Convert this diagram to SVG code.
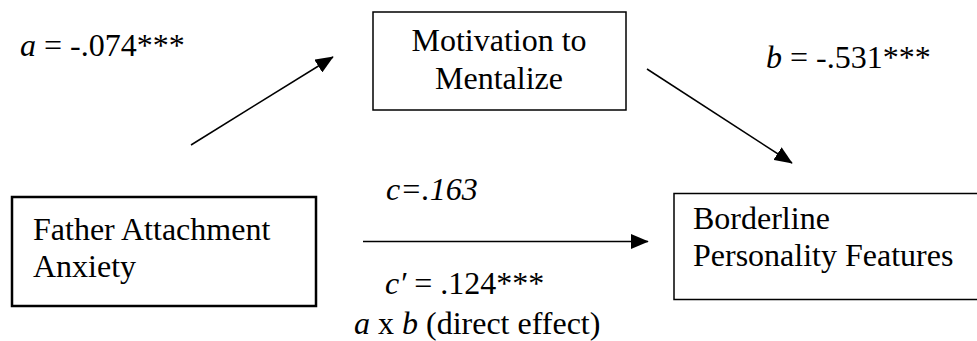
<svg xmlns="http://www.w3.org/2000/svg" width="977" height="341" viewBox="0 0 977 341">
<style>
text{font-family:'Liberation Serif','Times New Roman','DejaVu Serif',serif;font-size:32px;fill:#000}
.i{font-style:italic}
.box{fill:#fff;stroke:#000;stroke-width:1.5}
.thick{stroke-width:2.5}
.edge{stroke:#000;stroke-width:1.5;fill:none;marker-end:url(#ah)}
</style>
<defs>
<marker id="ah" markerWidth="12" markerHeight="10" refX="11.5" refY="5" orient="auto" markerUnits="strokeWidth">
<path d="M0,0 L12,5 L0,10 Z" fill="#000"/>
</marker>
</defs>
<rect width="977" height="341" fill="#fff"/>
<g id="connectors">
<line class="edge" x1="191" y1="145" x2="333" y2="57"/>
<line class="edge" x1="647" y1="69" x2="792" y2="163"/>
<line class="edge" x1="363" y1="241.5" x2="648" y2="241.5"/>
</g>
<g id="node-motivation" font-family="Liberation Serif, serif">
<rect class="box" x="373" y="12" width="253" height="98"/>
<text x="499" y="50.5" text-anchor="middle">Motivation to</text>
<text x="499" y="88.5" text-anchor="middle">Mentalize</text>
</g>
<g id="node-father">
<rect class="box thick" x="12" y="197" width="304" height="109"/>
<text x="33" y="239.5">Father Attachment</text>
<text x="33" y="277">Anxiety</text>
</g>
<g id="node-borderline">
<rect class="box" x="674" y="193.5" width="310" height="106"/>
<text x="693" y="228.5">Borderline</text>
<text x="693" y="266">Personality Features</text>
</g>
<g id="labels">
<text x="20" y="55.5"><tspan class="i">a</tspan> = -.074***</text>
<text x="766" y="67.5"><tspan class="i">b</tspan> = -.531***</text>
<text x="386" y="200" class="i">c=.163</text>
<text x="385" y="293.5"><tspan class="i">c′</tspan> = .124***</text>
<text x="354" y="334"><tspan class="i">a</tspan> x <tspan class="i">b</tspan> (direct effect)</text>
</g>
</svg>
